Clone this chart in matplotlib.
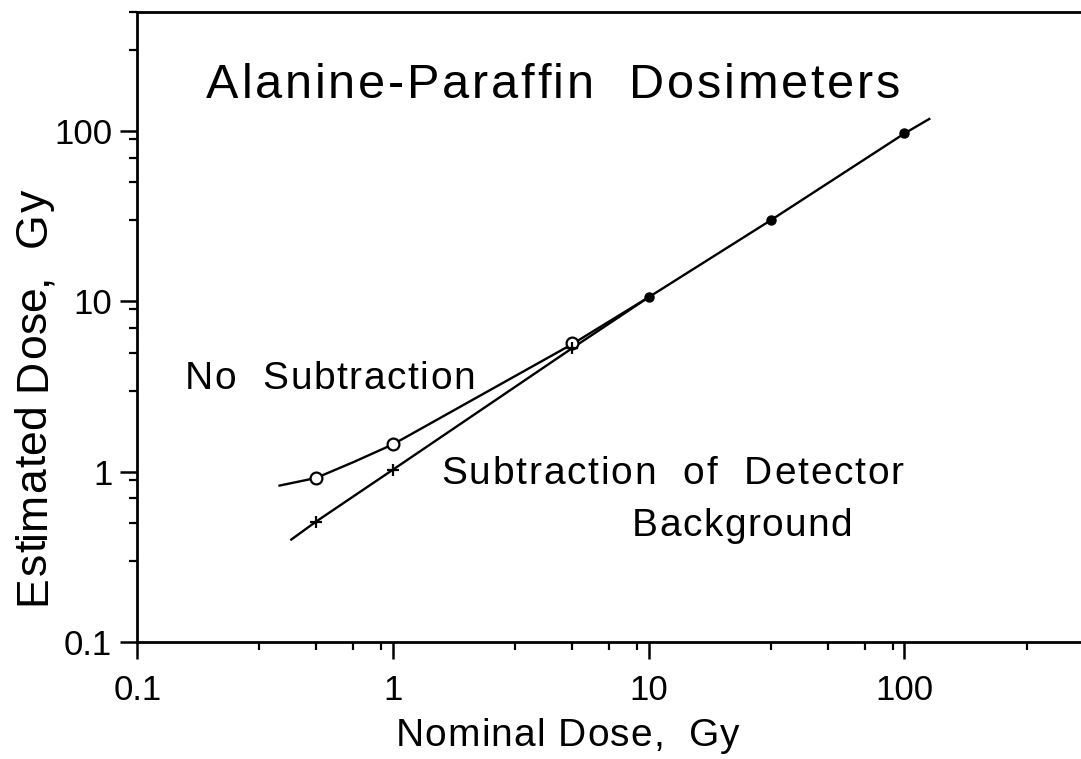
import matplotlib.pyplot as plt
from matplotlib.font_manager import FontProperties, findfont
from matplotlib.ft2font import FT2Font
from matplotlib.ticker import FixedLocator, NullFormatter

FONT = 'Liberation Sans'
plt.rcParams['font.family'] = [FONT, 'DejaVu Sans']

# Measured points, nominal vs estimated dose (Gy)
nominal = [0.5, 1, 5, 10, 30, 100]
est_no_sub = [0.92, 1.45, 5.7, 10.6, 30, 97]
est_sub = [0.51, 1.03, 5.3, 10.6, 30, 97]

# Drawn curves through the points, extended at both ends
curve_no_sub_x = [0.36, 0.5, 0.7, 1, 5, 10, 30, 100, 125]
curve_no_sub_y = [0.83, 0.92, 1.14, 1.45, 5.6, 10.6, 30, 97, 118]
curve_sub_x = [0.40, 0.5, 1, 5, 10]
curve_sub_y = [0.40, 0.51, 1.03, 5.3, 10.6]

major_ticks = [0.1, 1, 10, 100]
major_labels = ['0.1', '1', '10', '100']
minor_ticks = [m * d for d in [0.1, 1, 10, 100] for m in [3, 5, 7, 9]]


def char_advances(s, size):
    font = FT2Font(findfont(FontProperties(family=FONT)))
    font.set_size(size, 72)
    return [font.load_char(ord(ch)).linearHoriAdvance / 65536 for ch in s]


def spaced_text(ax, xy, s, size, track, coords='data', center=False, rotation=0):
    """Lay out a string one glyph at a time with extra letter spacing (pt)."""
    adv = char_advances(s, size)
    total = sum(adv) + track * (len(s) - 1)
    pos = -total / 2 if center else 0.0
    for ch, a in zip(s, adv):
        off = (0, pos) if rotation == 90 else (pos, 0)
        ax.annotate(ch, xy, xycoords=coords, xytext=off, textcoords='offset points',
                    fontsize=size, ha='left', va='baseline', rotation=rotation,
                    rotation_mode='anchor', annotation_clip=False)
        pos += a + track


fig = plt.figure(figsize=(10.81, 7.59), dpi=100)
ax = fig.add_axes([0.127, 0.154, 0.873, 0.830])
ax.set_xscale('log')
ax.set_yscale('log')
ax.set_xlim(0.1, 490)
ax.set_ylim(0.1, 500)

# curves
ax.plot(curve_no_sub_x, curve_no_sub_y, color='black', lw=1.7)
ax.plot(curve_sub_x, curve_sub_y, color='black', lw=1.7)

# markers: open circles / plus signs at low dose, filled dots above
ax.plot(nominal[:3], est_no_sub[:3], 'o', ms=8.5, mfc='white', mec='black', mew=1.6)
ax.plot(nominal[:3], est_sub[:3], '+', ms=9, color='black', mew=1.6)
ax.plot(nominal[3:], est_no_sub[3:], 'o', ms=6.5, color='black')

for side in ['left', 'bottom', 'top']:
    ax.spines[side].set_linewidth(2.0)
ax.spines['right'].set_visible(False)

for axis in [ax.xaxis, ax.yaxis]:
    axis.set_major_locator(FixedLocator(major_ticks))
    axis.set_minor_locator(FixedLocator(minor_ticks))
    axis.set_minor_formatter(NullFormatter())
ax.set_xticklabels(major_labels)
ax.set_yticklabels(major_labels)
ax.tick_params(which='major', direction='out', length=12, width=1.8,
               labelsize=25, pad=6, top=False, right=False)
ax.tick_params(axis='x', which='major', pad=11)
ax.tick_params(which='minor', direction='out', length=6, width=1.6,
               top=False, right=False)

# axis titles
spaced_text(ax, (0.525, 0.017), 'Nominal Dose,  Gy', 28, 0.8, coords='figure fraction', center=True)
spaced_text(ax, (0.042, 0.203), 'Estimated Dose,  Gy', 32, 0.3, coords='figure fraction', rotation=90)

# annotations
spaced_text(ax, (0.186, 156), 'Alanine-Paraffin  Dosimeters', 35, 2.0)
spaced_text(ax, (0.154, 3.06), 'No  Subtraction', 28, 1.1)
spaced_text(ax, (1.54, 0.85), 'Subtraction  of  Detector', 28, 1.3)
spaced_text(ax, (8.6, 0.417), 'Background', 28, 1.0)

fig.savefig('out.png', dpi=100)
